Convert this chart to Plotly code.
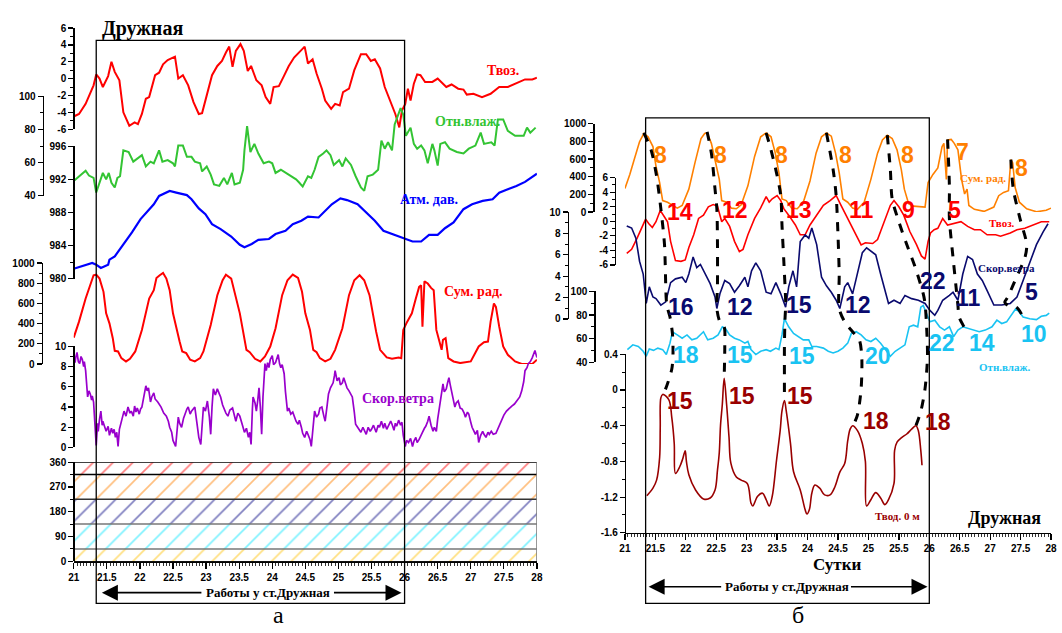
import plotly.graph_objects as go

W, H = 1062, 633

# ===================== DATA : panel "а" (left) =====================
A_TEMP = [(21.00,-4.5),(21.08,-4.2),(21.18,-3.0),(21.25,-1.8),(21.30,-0.8),(21.34,0.5),(21.39,0.0),(21.44,-1.0),(21.52,0.3),(21.57,2.0),(21.62,0.8),(21.69,-0.2),(21.75,-4.0),(21.84,-5.6),(21.92,-5.2),(21.97,-5.4),(22.03,-4.2),(22.09,-2.4),(22.14,-2.2),(22.23,0.4),(22.29,0.7),(22.35,1.7),(22.42,2.2),(22.53,2.6),(22.58,0.0),(22.65,0.4),(22.73,-0.8),(22.81,-2.8),(22.89,-4.2),(22.94,-4.1),(23.00,-2.4),(23.09,0.4),(23.17,1.5),(23.24,2.1),(23.30,3.1),(23.35,3.8),(23.40,1.4),(23.45,3.3),(23.52,4.1),(23.57,3.3),(23.63,0.9),(23.68,1.5),(23.76,-0.2),(23.84,-0.8),(23.90,-2.2),(23.97,-3.0),(24.02,-1.0),(24.10,-0.9),(24.17,0.2),(24.25,1.5),(24.33,2.5),(24.41,3.1),(24.49,3.8),(24.54,1.8),(24.61,2.3),(24.67,0.6),(24.75,-1.2),(24.80,-2.6),(24.89,-3.6),(24.95,-3.0),(25.02,-3.2),(25.07,-1.6),(25.16,-1.2),(25.24,1.0),(25.34,2.9),(25.42,2.9),(25.49,2.1),(25.55,2.3),(25.63,1.2),(25.70,-1.0),(25.78,-2.6),(25.86,-4.2),(25.92,-5.8),(25.96,-3.8),(26.01,-3.0),(26.05,-1.2),(26.09,-2.6),(26.14,-0.6),(26.19,0.5),(26.24,0.4),(26.31,-0.4),(26.42,-0.4),(26.50,0.0),(26.63,-1.0),(26.71,-0.7),(26.81,-1.2),(26.89,-1.3),(26.94,-1.9),(27.04,-1.8),(27.17,-2.2),(27.30,-1.8),(27.43,-1.0),(27.56,-1.0),(27.67,-0.6),(27.82,-0.1),(27.93,-0.1),(28.00,0.1)]

A_RH = [(21.00,48.9),(21.08,51.8),(21.18,55.1),(21.23,52.2),(21.30,50.8),(21.34,42.0),(21.39,47.9),(21.44,53.8),(21.49,49.9),(21.53,53.8),(21.57,47.9),(21.62,45.0),(21.66,50.8),(21.70,51.8),(21.75,67.4),(21.83,66.4),(21.90,60.6),(21.97,62.5),(22.03,64.5),(22.09,57.7),(22.16,60.6),(22.21,59.6),(22.29,67.4),(22.34,60.6),(22.42,61.5),(22.50,59.6),(22.53,57.7),(22.58,70.3),(22.65,70.3),(22.71,63.5),(22.78,63.5),(22.83,60.6),(22.91,59.6),(22.94,54.7),(23.01,57.7),(23.07,52.8),(23.12,46.9),(23.20,46.0),(23.27,50.8),(23.32,46.9),(23.39,53.8),(23.43,46.9),(23.51,47.9),(23.56,55.7),(23.58,67.4),(23.62,82.0),(23.67,66.4),(23.73,71.3),(23.79,65.5),(23.87,59.6),(23.95,60.6),(24.00,59.6),(24.05,53.8),(24.13,55.7),(24.20,53.8),(24.28,51.8),(24.36,49.9),(24.41,47.9),(24.46,45.6),(24.54,51.8),(24.59,50.8),(24.64,55.7),(24.70,63.5),(24.77,65.5),(24.82,67.4),(24.88,64.5),(24.93,58.6),(25.01,61.5),(25.06,57.7),(25.11,62.5),(25.19,58.6),(25.26,51.8),(25.34,45.0),(25.39,43.0),(25.44,51.8),(25.52,52.8),(25.60,55.7),(25.65,73.3),(25.70,68.4),(25.75,72.3),(25.81,67.4),(25.85,83.0),(25.91,89.9),(25.94,92.8),(25.98,88.9),(26.02,76.2),(26.09,81.1),(26.14,71.3),(26.19,68.4),(26.25,70.3),(26.30,67.4),(26.35,59.6),(26.42,71.3),(26.45,67.4),(26.50,58.2),(26.54,71.3),(26.61,72.3),(26.68,68.4),(26.79,66.4),(26.89,65.5),(26.97,68.4),(27.07,70.3),(27.15,78.1),(27.20,71.3),(27.31,72.3),(27.36,70.3),(27.41,86.0),(27.49,86.0),(27.56,79.1),(27.67,76.2),(27.80,76.2),(27.85,81.1),(27.90,78.1),(27.98,81.1)]

A_PRES = [(21.00,981.2),(21.16,981.6),(21.28,981.9),(21.34,981.7),(21.41,981.3),(21.52,981.7),(21.54,982.3),(21.62,982.7),(21.75,984.1),(21.88,985.6),(22.01,987.2),(22.21,989.0),(22.29,990.0),(22.40,990.4),(22.45,990.6),(22.55,990.4),(22.71,990.1),(22.78,989.6),(22.89,988.5),(22.99,987.8),(23.09,986.6),(23.22,986.0),(23.38,985.1),(23.51,984.1),(23.58,983.8),(23.69,984.2),(23.79,984.7),(23.95,984.8),(24.05,985.4),(24.20,985.8),(24.31,986.6),(24.44,987.0),(24.54,987.5),(24.70,987.4),(24.77,988.0),(24.90,989.0),(25.03,989.7),(25.13,989.5),(25.29,989.0),(25.42,988.0),(25.55,987.0),(25.68,985.8),(25.81,985.4),(25.96,984.9),(26.12,984.5),(26.25,984.5),(26.37,985.3),(26.50,985.3),(26.61,986.1),(26.74,986.8),(26.89,988.4),(27.02,989.0),(27.18,989.4),(27.33,989.6),(27.43,990.4),(27.56,990.8),(27.69,991.2),(27.82,991.7),(28.00,992.7)]

A_RAD = [(21.00,262),(21.08,420),(21.18,649),(21.26,797),(21.30,879),(21.34,885),(21.39,846),(21.45,715),(21.49,502),(21.54,403),(21.59,256),(21.62,131),(21.67,125),(21.72,59),(21.79,26),(21.85,52),(21.93,125),(22.03,338),(22.14,649),(22.21,731),(22.25,852),(22.30,879),(22.35,902),(22.40,846),(22.45,731),(22.50,502),(22.55,354),(22.60,223),(22.64,125),(22.70,108),(22.76,43),(22.83,26),(22.91,59),(22.96,125),(23.07,387),(23.17,682),(23.25,830),(23.30,885),(23.38,846),(23.44,698),(23.51,502),(23.56,321),(23.61,141),(23.66,118),(23.74,52),(23.82,26),(23.89,75),(23.97,174),(24.05,354),(24.15,682),(24.23,830),(24.31,885),(24.39,852),(24.45,715),(24.50,502),(24.57,338),(24.62,141),(24.67,118),(24.72,59),(24.80,26),(24.88,52),(24.95,141),(25.06,354),(25.16,682),(25.24,830),(25.32,879),(25.39,830),(25.47,682),(25.52,485),(25.57,321),(25.63,141),(25.68,108),(25.73,66),(25.81,52),(25.91,66),(25.95,59),(25.98,338),(26.04,420),(26.11,502),(26.17,649),(26.22,764),(26.25,780),(26.27,370),(26.30,820),(26.35,797),(26.40,754),(26.44,731),(26.48,338),(26.53,223),(26.56,141),(26.58,239),(26.62,256),(26.66,59),(26.74,26),(26.84,10),(27.00,26),(27.12,174),(27.20,216),(27.26,223),(27.30,420),(27.35,600),(27.38,567),(27.43,370),(27.49,174),(27.56,92),(27.67,26),(27.77,2),(27.93,2),(28.00,43)]

A_WIND = [(21.00,9.2),(21.02,8.4),(21.03,8.9),(21.05,9.4),(21.07,8.5),(21.09,8.3),(21.11,9.0),(21.13,8.7),(21.15,8.0),(21.16,8.5),(21.18,7.6),(21.21,5.0),(21.23,5.6),(21.25,5.3),(21.27,4.7),(21.28,5.1),(21.30,4.5),(21.32,2.0),(21.34,0.2),(21.36,2.4),(21.37,1.6),(21.39,2.8),(21.41,3.6),(21.43,2.2),(21.44,2.6),(21.47,2.0),(21.49,1.6),(21.52,2.1),(21.54,1.2),(21.57,1.9),(21.59,1.4),(21.61,1.8),(21.63,1.0),(21.65,1.5),(21.67,0.1),(21.69,1.8),(21.71,2.3),(21.74,3.2),(21.76,3.6),(21.79,3.1),(21.82,4.0),(21.85,3.4),(21.87,3.6),(21.90,3.1),(21.92,4.1),(21.94,3.5),(21.96,3.9),(21.99,3.3),(22.01,3.8),(22.03,4.0),(22.06,5.2),(22.09,6.1),(22.11,5.6),(22.13,5.9),(22.16,4.5),(22.18,5.0),(22.21,5.4),(22.23,4.8),(22.27,4.5),(22.30,4.2),(22.32,4.0),(22.36,3.4),(22.40,3.1),(22.43,2.6),(22.45,2.0),(22.48,1.5),(22.50,0.7),(22.54,0.1),(22.56,2.1),(22.58,3.0),(22.60,2.4),(22.63,2.0),(22.66,2.9),(22.68,3.3),(22.71,3.8),(22.73,4.0),(22.76,3.3),(22.78,3.6),(22.81,3.9),(22.83,4.0),(22.86,2.5),(22.89,1.0),(22.92,0.3),(22.94,2.5),(22.96,4.0),(22.99,3.6),(23.02,4.6),(23.05,3.0),(23.07,1.3),(23.09,4.0),(23.11,5.8),(23.14,5.2),(23.17,5.8),(23.20,5.3),(23.22,5.0),(23.25,4.2),(23.27,3.8),(23.30,3.4),(23.33,3.1),(23.36,3.7),(23.40,3.9),(23.43,3.0),(23.45,2.6),(23.48,3.4),(23.51,3.1),(23.55,2.2),(23.58,1.5),(23.61,1.9),(23.64,1.0),(23.66,1.5),(23.68,0.3),(23.70,3.8),(23.71,5.0),(23.74,4.4),(23.76,3.6),(23.78,4.6),(23.80,5.9),(23.82,4.0),(23.84,1.3),(23.86,5.0),(23.89,8.3),(23.91,7.6),(23.93,8.4),(23.95,7.9),(23.97,8.7),(24.00,9.1),(24.02,8.2),(24.05,8.4),(24.07,8.9),(24.09,9.2),(24.11,8.3),(24.13,7.9),(24.15,8.2),(24.18,7.3),(24.20,5.5),(24.23,3.6),(24.25,3.9),(24.28,3.3),(24.31,3.5),(24.33,3.1),(24.36,2.6),(24.39,2.3),(24.41,2.7),(24.44,2.0),(24.46,1.4),(24.49,1.0),(24.52,1.6),(24.54,1.3),(24.57,0.8),(24.59,0.1),(24.62,2.5),(24.64,3.6),(24.67,3.0),(24.70,3.3),(24.72,3.9),(24.75,4.0),(24.78,3.1),(24.80,2.6),(24.83,4.2),(24.85,5.3),(24.88,5.9),(24.92,6.4),(24.94,7.1),(24.95,7.6),(24.98,6.6),(25.01,6.9),(25.03,6.2),(25.06,6.4),(25.08,6.9),(25.11,6.3),(25.13,5.9),(25.16,5.6),(25.19,5.3),(25.21,5.0),(25.24,3.5),(25.26,2.3),(25.29,2.0),(25.32,1.7),(25.34,1.5),(25.37,2.0),(25.40,1.6),(25.42,1.3),(25.45,2.0),(25.48,1.6),(25.50,1.8),(25.53,2.2),(25.57,1.5),(25.60,2.2),(25.62,2.0),(25.65,2.6),(25.68,1.9),(25.70,2.4),(25.73,1.8),(25.76,2.2),(25.79,2.6),(25.81,2.3),(25.84,1.7),(25.86,2.4),(25.88,2.1),(25.91,2.7),(25.94,2.2),(25.96,2.5),(25.98,1.2),(26.01,0.1),(26.03,0.7),(26.06,0.5),(26.09,0.9),(26.12,0.1),(26.14,0.6),(26.17,1.0),(26.19,0.5),(26.22,0.8),(26.25,1.3),(26.27,1.5),(26.30,1.9),(26.32,2.1),(26.35,2.6),(26.37,3.1),(26.40,2.2),(26.43,1.6),(26.45,2.0),(26.48,1.6),(26.50,2.8),(26.53,4.0),(26.55,5.2),(26.58,6.3),(26.60,5.5),(26.63,5.8),(26.65,6.4),(26.67,6.9),(26.69,6.2),(26.71,5.6),(26.74,4.6),(26.76,4.0),(26.78,4.4),(26.81,4.6),(26.84,3.9),(26.87,3.8),(26.90,3.4),(26.92,3.0),(26.95,3.5),(26.97,3.3),(27.00,2.5),(27.02,2.0),(27.05,1.6),(27.07,1.3),(27.10,1.7),(27.12,0.5),(27.15,1.2),(27.18,1.6),(27.20,1.3),(27.23,1.0),(27.26,1.5),(27.28,1.3),(27.31,1.6),(27.34,1.3),(27.38,1.4),(27.42,2.0),(27.46,2.6),(27.50,3.2),(27.54,3.6),(27.58,3.9),(27.62,4.1),(27.66,4.3),(27.70,4.6),(27.74,5.0),(27.77,5.6),(27.80,6.5),(27.82,7.6),(27.85,7.9),(27.87,8.3),(27.90,8.5),(27.93,8.9),(27.95,9.2),(27.97,9.6),(28.00,8.9)]

DIR_EDGES = [0, 45, 135, 225, 315, 360]
DIR_COLORS = ["#FFC000", "#00E5FF", "#000080", "#FF7F00", "#FF0000"]

# ===================== DATA : panel "б" (right) =====================
B_RAD = [(21.00,267),(21.08,426),(21.16,611),(21.24,796),(21.31,889),(21.38,852),(21.46,741),(21.51,519),(21.57,333),(21.62,130),(21.70,111),(21.78,74),(21.86,44),(21.94,74),(22.05,259),(22.15,556),(22.21,741),(22.25,833),(22.31,889),(22.35,896),(22.42,778),(22.48,593),(22.55,370),(22.59,130),(22.67,111),(22.75,44),(22.83,37),(22.91,81),(23.02,296),(23.13,630),(23.23,852),(23.32,896),(23.40,852),(23.47,667),(23.53,444),(23.58,148),(23.65,130),(23.74,44),(23.83,37),(23.93,111),(24.04,352),(24.14,667),(24.23,852),(24.31,896),(24.39,859),(24.46,667),(24.52,444),(24.58,148),(24.66,111),(24.74,44),(24.82,30),(24.93,111),(25.04,370),(25.15,667),(25.23,815),(25.31,870),(25.39,833),(25.47,704),(25.54,481),(25.59,259),(25.66,93),(25.74,67),(25.85,56),(25.93,56),(25.98,333),(26.06,426),(26.14,500),(26.21,741),(26.24,778),(26.28,370),(26.30,815),(26.36,822),(26.41,778),(26.47,704),(26.53,370),(26.58,204),(26.62,259),(26.65,74),(26.74,30),(26.90,7),(27.06,56),(27.14,185),(27.22,222),(27.30,241),(27.34,593),(27.37,556),(27.41,278),(27.48,111),(27.60,37),(27.76,3),(27.92,19),(28.00,44)]

B_TEMP = [(21.03,-4.4),(21.11,-3.85),(21.20,-2.3),(21.29,-0.7),(21.34,0.3),(21.39,-0.3),(21.45,-0.85),(21.51,-0.05),(21.58,1.5),(21.65,0.6),(21.70,-0.05),(21.75,-2.75),(21.83,-5.4),(21.92,-5.5),(21.99,-5.3),(22.05,-3.6),(22.13,-1.85),(22.21,0.4),(22.29,0.85),(22.37,2.0),(22.45,2.3),(22.52,2.1),(22.59,-0.05),(22.64,0.4),(22.72,-0.7),(22.80,-2.75),(22.88,-4.15),(22.94,-3.85),(23.02,-1.85),(23.13,0.4),(23.23,1.85),(23.32,3.4),(23.37,2.65),(23.42,3.1),(23.50,3.55),(23.56,2.85),(23.61,1.75),(23.69,0.85),(23.80,-0.5),(23.88,-1.85),(23.96,-1.85),(24.04,-0.5),(24.15,0.85),(24.26,2.2),(24.37,2.85),(24.47,3.55),(24.55,2.2),(24.63,0.85),(24.72,-0.5),(24.80,-1.85),(24.88,-3.25),(24.95,-2.95),(25.07,-3.05),(25.15,-2.5),(25.25,-0.25),(25.36,2.2),(25.42,2.85),(25.50,2.0),(25.58,0.85),(25.68,-1.4),(25.79,-3.2),(25.87,-4.75),(25.93,-5.2),(25.98,-2.75),(26.02,-1.6),(26.08,-1.15),(26.14,-0.95),(26.22,0.4),(26.30,-0.5),(26.41,-0.25),(26.52,-0.05),(26.63,-0.7),(26.74,-1.15),(26.84,-1.15),(26.95,-1.85),(27.09,-1.85),(27.17,-2.05),(27.33,-1.6),(27.44,-1.15),(27.57,-0.95),(27.70,-0.5),(27.84,-0.05),(27.97,-0.05)]

B_WIND = [(21.03,8.7),(21.11,8.5),(21.18,7.55),(21.24,5.4),(21.30,4.2),(21.34,1.75),(21.35,1.45),(21.40,3.0),(21.46,2.05),(21.51,1.9),(21.59,1.3),(21.67,1.6),(21.75,3.4),(21.83,3.75),(21.94,3.9),(22.00,3.4),(22.05,4.2),(22.12,5.8),(22.18,4.8),(22.24,5.1),(22.32,4.2),(22.40,3.3),(22.48,2.05),(22.51,0.98),(22.56,2.35),(22.64,3.6),(22.72,3.3),(22.80,2.5),(22.88,3.1),(22.97,3.9),(23.02,3.0),(23.08,4.5),(23.15,5.25),(23.23,4.5),(23.32,2.5),(23.40,2.35),(23.48,3.4),(23.56,2.35),(23.64,1.1),(23.69,3.0),(23.76,4.5),(23.82,3.0),(23.88,7.25),(23.96,7.85),(24.02,7.55),(24.07,8.5),(24.15,6.95),(24.23,3.9),(24.31,3.1),(24.39,2.5),(24.47,1.75),(24.53,0.98),(24.61,3.0),(24.66,3.4),(24.74,2.35),(24.82,4.2),(24.90,6.2),(24.97,6.65),(25.04,6.35),(25.12,6.0),(25.20,4.2),(25.28,2.35),(25.33,1.45),(25.42,1.75),(25.52,1.45),(25.60,2.2),(25.71,1.9),(25.82,1.75),(25.93,1.45),(26.01,0.8),(26.09,0.35),(26.14,0.8),(26.22,1.75),(26.33,2.2),(26.39,2.5),(26.47,1.75),(26.55,4.2),(26.63,5.85),(26.71,5.55),(26.79,4.2),(26.87,3.6),(26.95,2.65),(27.06,1.3),(27.19,1.3),(27.33,1.45),(27.44,2.05),(27.54,3.6),(27.65,5.4),(27.76,6.95),(27.87,8.15),(27.95,8.9)]

B_RH = [(21.04,50.6),(21.13,54.7),(21.22,53.3),(21.30,49.2),(21.35,45.0),(21.40,51.1),(21.47,50.0),(21.54,51.9),(21.62,50.6),(21.68,46.4),(21.74,56.1),(21.78,65.8),(21.86,63.1),(21.94,60.3),(22.02,63.1),(22.10,58.9),(22.18,60.3),(22.29,65.8),(22.36,58.9),(22.45,60.3),(22.53,63.1),(22.60,70.0),(22.65,68.6),(22.72,63.1),(22.80,60.3),(22.88,58.9),(22.97,56.1),(23.02,57.5),(23.07,50.6),(23.15,46.4),(23.23,49.2),(23.32,50.6),(23.39,49.2),(23.48,51.9),(23.53,50.6),(23.58,63.1),(23.62,76.9),(23.69,70.0),(23.77,64.4),(23.85,61.7),(23.93,58.9),(24.02,58.9),(24.07,53.3),(24.15,53.3),(24.26,51.9),(24.34,49.2),(24.42,47.8),(24.50,49.2),(24.58,51.9),(24.66,56.1),(24.72,64.4),(24.80,65.8),(24.88,63.1),(24.96,58.9),(25.04,57.5),(25.12,60.3),(25.20,56.1),(25.28,50.6),(25.36,45.0),(25.44,49.2),(25.52,51.9),(25.60,54.7),(25.67,70.0),(25.74,71.4),(25.81,70.0),(25.86,86.7),(25.90,88.1),(25.95,81.1),(26.01,74.2),(26.09,75.6),(26.17,70.0),(26.25,67.2),(26.33,70.0),(26.40,61.7),(26.47,67.2),(26.55,70.0),(26.63,68.6),(26.74,67.2),(26.82,65.8),(26.92,67.2),(27.03,70.0),(27.11,75.6),(27.19,72.8),(27.27,74.2),(27.35,79.7),(27.42,85.3),(27.48,82.5),(27.54,78.3),(27.65,76.9),(27.76,76.1),(27.84,78.9),(27.92,79.7),(27.97,81.7)]

B_WATER = [(21.36,-1.185),(21.46,-1.10),(21.52,-1.01),(21.57,-0.756),(21.58,-0.42),(21.59,-0.088),(21.62,-0.05),(21.72,-0.107),(21.77,-0.31),(21.81,-0.60),(21.83,-0.935),(21.90,-0.86),(21.95,-0.77),(21.99,-0.68),(22.01,-0.80),(22.05,-0.95),(22.16,-1.12),(22.29,-1.22),(22.40,-1.21),(22.48,-1.12),(22.52,-0.90),(22.55,-0.70),(22.57,-0.40),(22.60,-0.16),(22.63,0.13),(22.67,-0.16),(22.71,-0.53),(22.74,-0.82),(22.83,-0.975),(22.91,-1.01),(23.01,-1.047),(23.07,-1.265),(23.10,-1.30),(23.18,-1.19),(23.26,-1.156),(23.32,-1.229),(23.37,-1.30),(23.42,-1.19),(23.49,-0.79),(23.55,-0.456),(23.58,-0.235),(23.62,-0.118),(23.65,-0.235),(23.72,-0.60),(23.77,-0.916),(23.88,-1.12),(23.96,-1.34),(23.99,-1.39),(24.03,-1.34),(24.07,-1.156),(24.12,-1.065),(24.20,-1.10),(24.28,-1.175),(24.37,-1.175),(24.45,-1.084),(24.53,-0.92),(24.61,-0.824),(24.66,-0.567),(24.70,-0.438),(24.74,-0.40),(24.82,-0.456),(24.90,-0.60),(24.95,-0.80),(24.97,-1.30),(25.04,-1.229),(25.12,-1.15),(25.20,-1.21),(25.27,-1.284),(25.33,-1.229),(25.42,-1.047),(25.43,-0.677),(25.47,-0.585),(25.55,-0.53),(25.63,-0.493),(25.71,-0.438),(25.78,-0.40),(25.82,-0.456),(25.86,-0.677),(25.88,-0.843)]

# phase lines: (day, series axis, value on that axis)
PHASE_LINES = [
    [(21.31,'rad',897),(21.43,'rad',703),(21.52,'rad',407),(21.59,'temp',1.73),(21.65,'temp',-3.2),(21.68,'wind',1.74),(21.70,'wind',1.0),(21.74,'rh',78.3),(21.78,'rh',64.5),(21.79,'rh',47.8),(21.77,'water',0.235),(21.67,'water',0.015),(21.61,'water',-0.065)],
    [(22.35,'rad',908),(22.42,'rad',667),(22.48,'temp',4.42),(22.51,'temp',1.73),(22.52,'temp',-2.76),(22.52,'wind',2.99),(22.51,'wind',0.98),(22.56,'rh',74.2),(22.63,'rh',70.0),(22.64,'rh',53.3),(22.63,'water',0.13)],
    [(23.32,'rad',897),(23.40,'rad',703),(23.49,'rad',444),(23.56,'temp',3.53),(23.58,'temp',-0.51),(23.61,'temp',-5.46),(23.64,'wind',1.74),(23.64,'wind',1.13),(23.63,'rh',77.0),(23.62,'rh',53.3),(23.62,'water',0.16),(23.62,'water',-0.118)],
    [(24.31,'rad',897),(24.42,'rad',481),(24.47,'temp',3.53),(24.50,'temp',-1.86),(24.52,'wind',4.19),(24.52,'wind',0.98),(24.61,'rh',74.2),(24.74,'rh',65.8),(24.85,'rh',58.9),(24.89,'rh',45.0),(24.88,'water',0.015),(24.82,'water',-0.278),(24.75,'water',-0.40)],
    [(25.31,'rad',870),(25.36,'rad',481),(25.39,'temp',3.08),(25.50,'temp',-0.06),(25.63,'temp',-3.2),(25.77,'wind',4.8),(25.90,'wind',2.36),(25.93,'wind',1.44),(25.95,'rh',75.6),(25.97,'rh',45.0),(25.93,'water',0.015),(25.86,'water',-0.24),(25.78,'water',-0.40)],
    [(26.30,'rad',822),(26.33,'temp',4.88),(26.33,'temp',0.38),(26.39,'temp',-4.99),(26.44,'wind',2.96),(26.47,'wind',1.28),(26.49,'rh',78.3),(26.57,'rh',70.0),(26.63,'rh',64.5)],
    [(27.34,'rad',593),(27.38,'temp',4.42),(27.49,'temp',0.38),(27.60,'temp',-3.2),(27.57,'temp',-5.0),(27.43,'wind',3.88),(27.29,'wind',2.05),(27.24,'wind',1.56),(27.29,'wind',1.28),(27.43,'rh',86.7),(27.51,'rh',81.2),(27.53,'rh',78.3)],
]

NUM_RAD = ["8", "8", "8", "8", "8", "7", "8"]
NUM_TEMP = ["14", "12", "13", "11", "9", "5"]
NUM_WIND = ["16", "12", "15", "12", "22", "11", "5"]
NUM_RH = ["18", "15", "15", "20", "22", "14", "10"]
NUM_WATER = ["15", "15", "15", "18", "18"]

WORK = (21.34, 26.0)
X_RANGE = [21, 28]

# ===================== LAYOUT =====================
SANS = "Liberation Sans Narrow, Liberation Sans, Arial"
SERIF = "Liberation Serif, Times New Roman, serif"

def fy(p):
    return 1 - p / H

def fx(p):
    return p / W

# axis name -> (plotly id, top px, bottom px, range, x px, major dtick, minor dtick)
AXES = {
    'a_temp':  ('y',   22.5, 125.5, [-6, 6],      68, 2, 1),
    'a_rh':    ('y2',  92,   193.5, [40, 100],    37, 20, 10),
    'a_pres':  ('y3',  143,  278,   [980, 996],   68, 4, 2),
    'a_rad':   ('y4',  262,  365,   [0, 1000],    36, 200, 100),
    'a_wind':  ('y5',  347,  450,   [0, 10],      68, 2, 1),
    'a_dir':   ('y6',  465,  566,   [0, 360],     68, 90, 45),
    'rad':     ('y7',  120,  210,   [0, 1000],    594, 200, 100),
    'temp':    ('y8',  175,  264,   [-6, 6],      616, 2, 1),
    'wind':    ('y9',  210,  319,   [0, 10],      568, 2, 1),
    'rh':      ('y10', 291,  363,   [40, 100],    595, 20, 10),
    'water':   ('y11', 355,  537,   [-1.6, 0.4],  626, 0.4, 0.2),
}

def fmt(v):
    return "%g" % round(v, 6)

layout = dict(
    width=W, height=H, margin=dict(l=0, r=0, t=0, b=0),
    paper_bgcolor="white", plot_bgcolor="rgba(0,0,0,0)",
    showlegend=False,
)

tickfont = dict(family=SANS, size=10, color="black", weight="bold")

for name, (aid, top, bot, rng, xp, dt, mdt) in AXES.items():
    key = "yaxis" if aid == "y" else "yaxis" + aid[1:]
    n = int(round((rng[1] - rng[0]) / dt))
    tv = [rng[0] + i * dt for i in range(n + 1)]
    layout[key] = dict(
        domain=[fy(bot), fy(top)], range=rng, anchor="free", position=fx(xp),
        side="left", showline=True, linecolor="black", linewidth=1.3,
        ticks="outside", ticklen=5, tickwidth=1.2, tickcolor="black",
        tickmode="array", tickvals=tv, ticktext=[fmt(v) for v in tv],
        minor=dict(tickmode="linear", tick0=rng[0], dtick=mdt, ticks="outside",
                   ticklen=3, tickwidth=1, tickcolor="black", showgrid=False),
        showgrid=False, zeroline=False, tickfont=tickfont,
    )

xcommon = dict(range=X_RANGE, anchor="free", showline=True, linecolor="black",
               linewidth=1.5, ticks="outside", ticklen=6, tickwidth=1.3,
               tickcolor="black", dtick=0.5, tick0=21,
               minor=dict(dtick=0.05, tick0=21, ticks="outside", ticklen=3,
                          tickwidth=0.8, tickcolor="black", showgrid=False),
               showgrid=False, zeroline=False, tickfont=tickfont)
layout["xaxis"] = dict(domain=[fx(68.5), fx(537)], position=fy(566), **xcommon)
layout["xaxis2"] = dict(domain=[fx(626), fx(1057)], position=fy(537), **xcommon)
layout["yaxis12"] = dict(domain=[0, 1], range=[0, 1], anchor="x2", visible=False)

fig = go.Figure()

def add_line(pairs, axis, color, width, xa="x", shape="linear"):
    aid = AXES[axis][0]
    fig.add_trace(go.Scatter(
        x=[p[0] for p in pairs], y=[p[1] for p in pairs], mode="lines",
        line=dict(color=color, width=width, shape=shape),
        xaxis=xa, yaxis=aid, hoverinfo="skip"))

# ---- direction bands (hatched) ----
for lo, hi, col in zip(DIR_EDGES[:-1], DIR_EDGES[1:], DIR_COLORS):
    fig.add_trace(go.Scatter(
        x=[X_RANGE[0], X_RANGE[1], X_RANGE[1], X_RANGE[0], X_RANGE[0]],
        y=[lo, lo, hi, hi, lo], mode="lines", fill="toself",
        fillpattern=dict(shape="/", fgcolor=col, bgcolor="white", size=14, solidity=0.12),
        line=dict(width=0), xaxis="x", yaxis="y6", hoverinfo="skip"))
EDGE_STYLE = {45: "#777777", 135: "#777777", 225: "#333333", 315: "#000000", 360: "#000000"}
for e in DIR_EDGES[1:]:
    fig.add_trace(go.Scatter(x=X_RANGE, y=[e, e], mode="lines",
                             line=dict(color=EDGE_STYLE[e], width=1.5),
                             xaxis="x", yaxis="y6", hoverinfo="skip"))
fig.add_trace(go.Scatter(x=[X_RANGE[1], X_RANGE[1]], y=[DIR_EDGES[0], DIR_EDGES[-1]],
                         mode="lines", line=dict(color="#777777", width=1.5),
                         xaxis="x", yaxis="y6", hoverinfo="skip"))

# ---- panel а curves ----
add_line(A_TEMP, 'a_temp', "#FF0000", 2)
add_line(A_RH, 'a_rh', "#33C433", 2)
add_line(A_PRES, 'a_pres', "#0000FF", 2.2)
add_line(A_RAD, 'a_rad', "#FF0000", 2)
add_line(A_WIND, 'a_wind', "#9900CC", 1.7)

# ---- panel б curves ----
add_line(B_RAD, 'rad', "#FF8000", 1.6, "x2")
add_line(B_TEMP, 'temp', "#FF0000", 1.6, "x2")
add_line(B_WIND, 'wind', "#0A0A6E", 1.6, "x2")
add_line(B_RH, 'rh', "#19C3F2", 1.6, "x2")
add_line(B_WATER, 'water', "#990000", 1.6, "x2", shape="spline")

def to_paper(axis, v):
    _, top, bot, rng, _, _, _ = AXES[axis]
    d0, d1 = fy(bot), fy(top)
    return d0 + (v - rng[0]) / (rng[1] - rng[0]) * (d1 - d0)

for pl in PHASE_LINES:
    fig.add_trace(go.Scatter(
        x=[p[0] for p in pl], y=[to_paper(p[1], p[2]) for p in pl], mode="lines",
        line=dict(color="black", width=3, dash="dash", shape="spline", smoothing=0.8),
        xaxis="x2", yaxis="y12", hoverinfo="skip"))

# ---- boxes marking the work period ----
shapes = [
    dict(type="rect", xref="x", yref="paper", x0=WORK[0], x1=WORK[1],
         y0=fy(609), y1=fy(35), line=dict(color="black", width=1.3)),
    dict(type="rect", xref="x2", yref="paper", x0=WORK[0], x1=WORK[1],
         y0=fy(609), y1=fy(114), line=dict(color="black", width=1.3)),
]
layout["shapes"] = shapes

ann = []
def txt(s, x, y, size, color="black", fam=SERIF, bold=True):
    ann.append(dict(text=("<b>%s</b>" % s) if bold else s, x=fx(x), y=fy(y),
                    xref="paper", yref="paper", showarrow=False,
                    xanchor="center", yanchor="middle",
                    font=dict(family=fam, size=size, color=color)))

# panel а labels
txt("Дружная", 138, 23, 20)
txt("Твоз.", 503, 66, 14, "#FF0000")
txt("Отн.влаж.", 467, 118, 14, "#33C433")
txt("Атм. дав.", 428, 197, 14, "#0000FF")
txt("Сум. рад.", 472, 291, 14, "#FF0000")
txt("Скор.ветра", 396, 400, 14, "#9900CC")
txt("Работы у ст.Дружная", 265, 598, 13)
txt("а", 276, 621, 24, bold=False)

# panel б labels
txt("Сум. рад.", 988, 175, 11, "#FF8000")
txt("Твоз.", 1007, 221, 11, "#FF0000")
txt("Скор.ветра", 1012, 267, 11, "#0A0A6E")
txt("Отн.влаж.", 1010, 368, 11, "#19C3F2")
txt("Твод. 0 м", 902, 520, 11, "#990000")
txt("Дружная", 1010, 522, 18)
txt("Сутки", 841, 569, 17)
txt("Работы у ст.Дружная", 790, 592, 13)
txt("б", 801, 621, 24, bold=False)

POS_RAD = [(662, 152), (723, 152), (784, 152), (849, 152), (912, 152), (967, 149), (1027, 165)]
POS_TEMP = [(682, 210), (737, 208), (802, 208), (865, 208), (913, 208), (959, 208)]
POS_WIND = [(683, 307), (742, 307), (802, 305), (862, 305), (938, 280), (973, 298), (1037, 292)]
POS_RH = [(688, 356), (742, 356), (805, 357), (882, 357), (947, 344), (987, 344), (1040, 334)]
POS_WATER = [(682, 403), (744, 398), (803, 398), (880, 423), (943, 424)]
for labels, pos, col in [(NUM_RAD, POS_RAD, "#FF8000"), (NUM_TEMP, POS_TEMP, "#FF0000"),
                         (NUM_WIND, POS_WIND, "#0A0A6E"), (NUM_RH, POS_RH, "#19C3F2"),
                         (NUM_WATER, POS_WATER, "#990000")]:
    for s, (x, y) in zip(labels, pos):
        txt(s, x, y, 23, col, fam="Liberation Sans, Arial")

# arrows
def arrow(head, tail, y):
    ann.append(dict(x=fx(head), y=fy(y), xref="paper", yref="paper", text="",
                    showarrow=True, axref="pixel", ayref="pixel", ax=tail - head, ay=0,
                    arrowhead=2, arrowsize=2.0, arrowwidth=1.6, arrowcolor="black"))
arrow(97, 198, 598)
arrow(400, 331, 598)
arrow(650, 724, 592)
arrow(932, 854, 592)

layout["annotations"] = ann
fig.update_layout(**layout)
fig.write_html("out.html", config={"displayModeBar": False, "staticPlot": True},
               post_script="document.body.style.margin='0';document.body.style.overflow='hidden';")
